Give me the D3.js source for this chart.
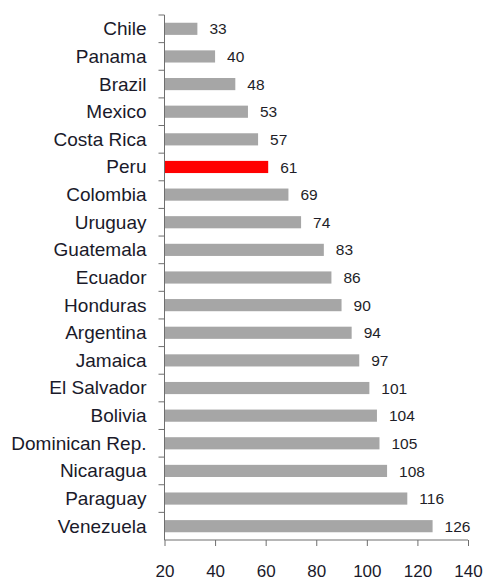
<!DOCTYPE html>
<html>
<head>
<meta charset="utf-8">
<script src="https://cdn.jsdelivr.net/npm/d3@7"></script>
<style>
  html, body { margin: 0; padding: 0; background: #fff; }
  svg { display: block; font-family: "Liberation Sans", Arial, sans-serif; }
</style>
</head>
<body>
<svg id="chart" width="485" height="581"></svg>
<script>
// Country values, top to bottom
const countries = ["Chile", "Panama", "Brazil", "Mexico", "Costa Rica", "Peru", "Colombia",
  "Uruguay", "Guatemala", "Ecuador", "Honduras", "Argentina", "Jamaica", "El Salvador",
  "Bolivia", "Dominican Rep.", "Nicaragua", "Paraguay", "Venezuela"];
const values = [33, 40, 48, 53, 57, 61, 69, 74, 83, 86, 90, 94, 97, 101, 104, 105, 108, 116, 126];
const highlighted = ["Peru"];
const xTicks = [20, 40, 60, 80, 100, 120, 140];

const svg = d3.select("#chart");
const plot = { left: 164.5, right: 468, top: 15, bottom: 540 };

const x = d3.scaleLinear().domain([20, 140]).range([plot.left, plot.right]);
const y = d3.scaleBand().domain(countries).range([plot.top, plot.bottom])
  .paddingInner(0.56).paddingOuter(0.28);

const rows = countries.map((c, i) => ({ country: c, value: values[i] }));

// Bars
svg.append("g").selectAll("rect").data(rows).join("rect")
  .attr("x", x(20))
  .attr("y", d => y(d.country))
  .attr("width", d => x(d.value) - x(20))
  .attr("height", y.bandwidth())
  .attr("fill", d => highlighted.includes(d.country) ? "#ff0000" : "#a6a6a6");

// Value labels
svg.append("g").selectAll("text").data(rows).join("text")
  .attr("x", d => x(d.value) + 12)
  .attr("y", d => y(d.country) + y.bandwidth() / 2)
  .attr("dy", "0.36em")
  .attr("font-size", 15.5)
  .attr("fill", "#1e1e28")
  .text(d => d.value);

// Category axis: vertical line with ticks at row boundaries
const rowHeight = (plot.bottom - plot.top) / countries.length;
const yAxis = svg.append("g").attr("stroke", "#6e6e6e").attr("stroke-width", 1);
yAxis.append("line")
  .attr("x1", plot.left).attr("x2", plot.left)
  .attr("y1", plot.top).attr("y2", plot.bottom);
yAxis.selectAll("line.tick").data(countries).join("line")
  .attr("class", "tick")
  .attr("x1", plot.left - 6).attr("x2", plot.left)
  .attr("y1", (d, i) => plot.top + i * rowHeight)
  .attr("y2", (d, i) => plot.top + i * rowHeight);

// Category labels
svg.append("g").selectAll("text").data(countries).join("text")
  .attr("x", plot.left - 18)
  .attr("y", d => y(d) + y.bandwidth() / 2)
  .attr("dy", "0.34em")
  .attr("text-anchor", "end")
  .attr("font-size", 19)
  .attr("fill", "#1a1a2a")
  .text(d => d);

// Value axis
const xAxis = svg.append("g")
  .attr("transform", `translate(0,${plot.bottom})`)
  .call(d3.axisBottom(x).tickValues(xTicks).tickSize(6).tickPadding(19));
xAxis.select(".domain").attr("stroke", "#6e6e6e").attr("d", `M${plot.left},0H${plot.right}`);
xAxis.selectAll(".tick line").attr("stroke", "#6e6e6e");
xAxis.selectAll(".tick text")
  .attr("font-size", 17)
  .attr("font-family", "Liberation Sans, Arial, sans-serif")
  .attr("fill", "#1a1a2a");
</script>
</body>
</html>
